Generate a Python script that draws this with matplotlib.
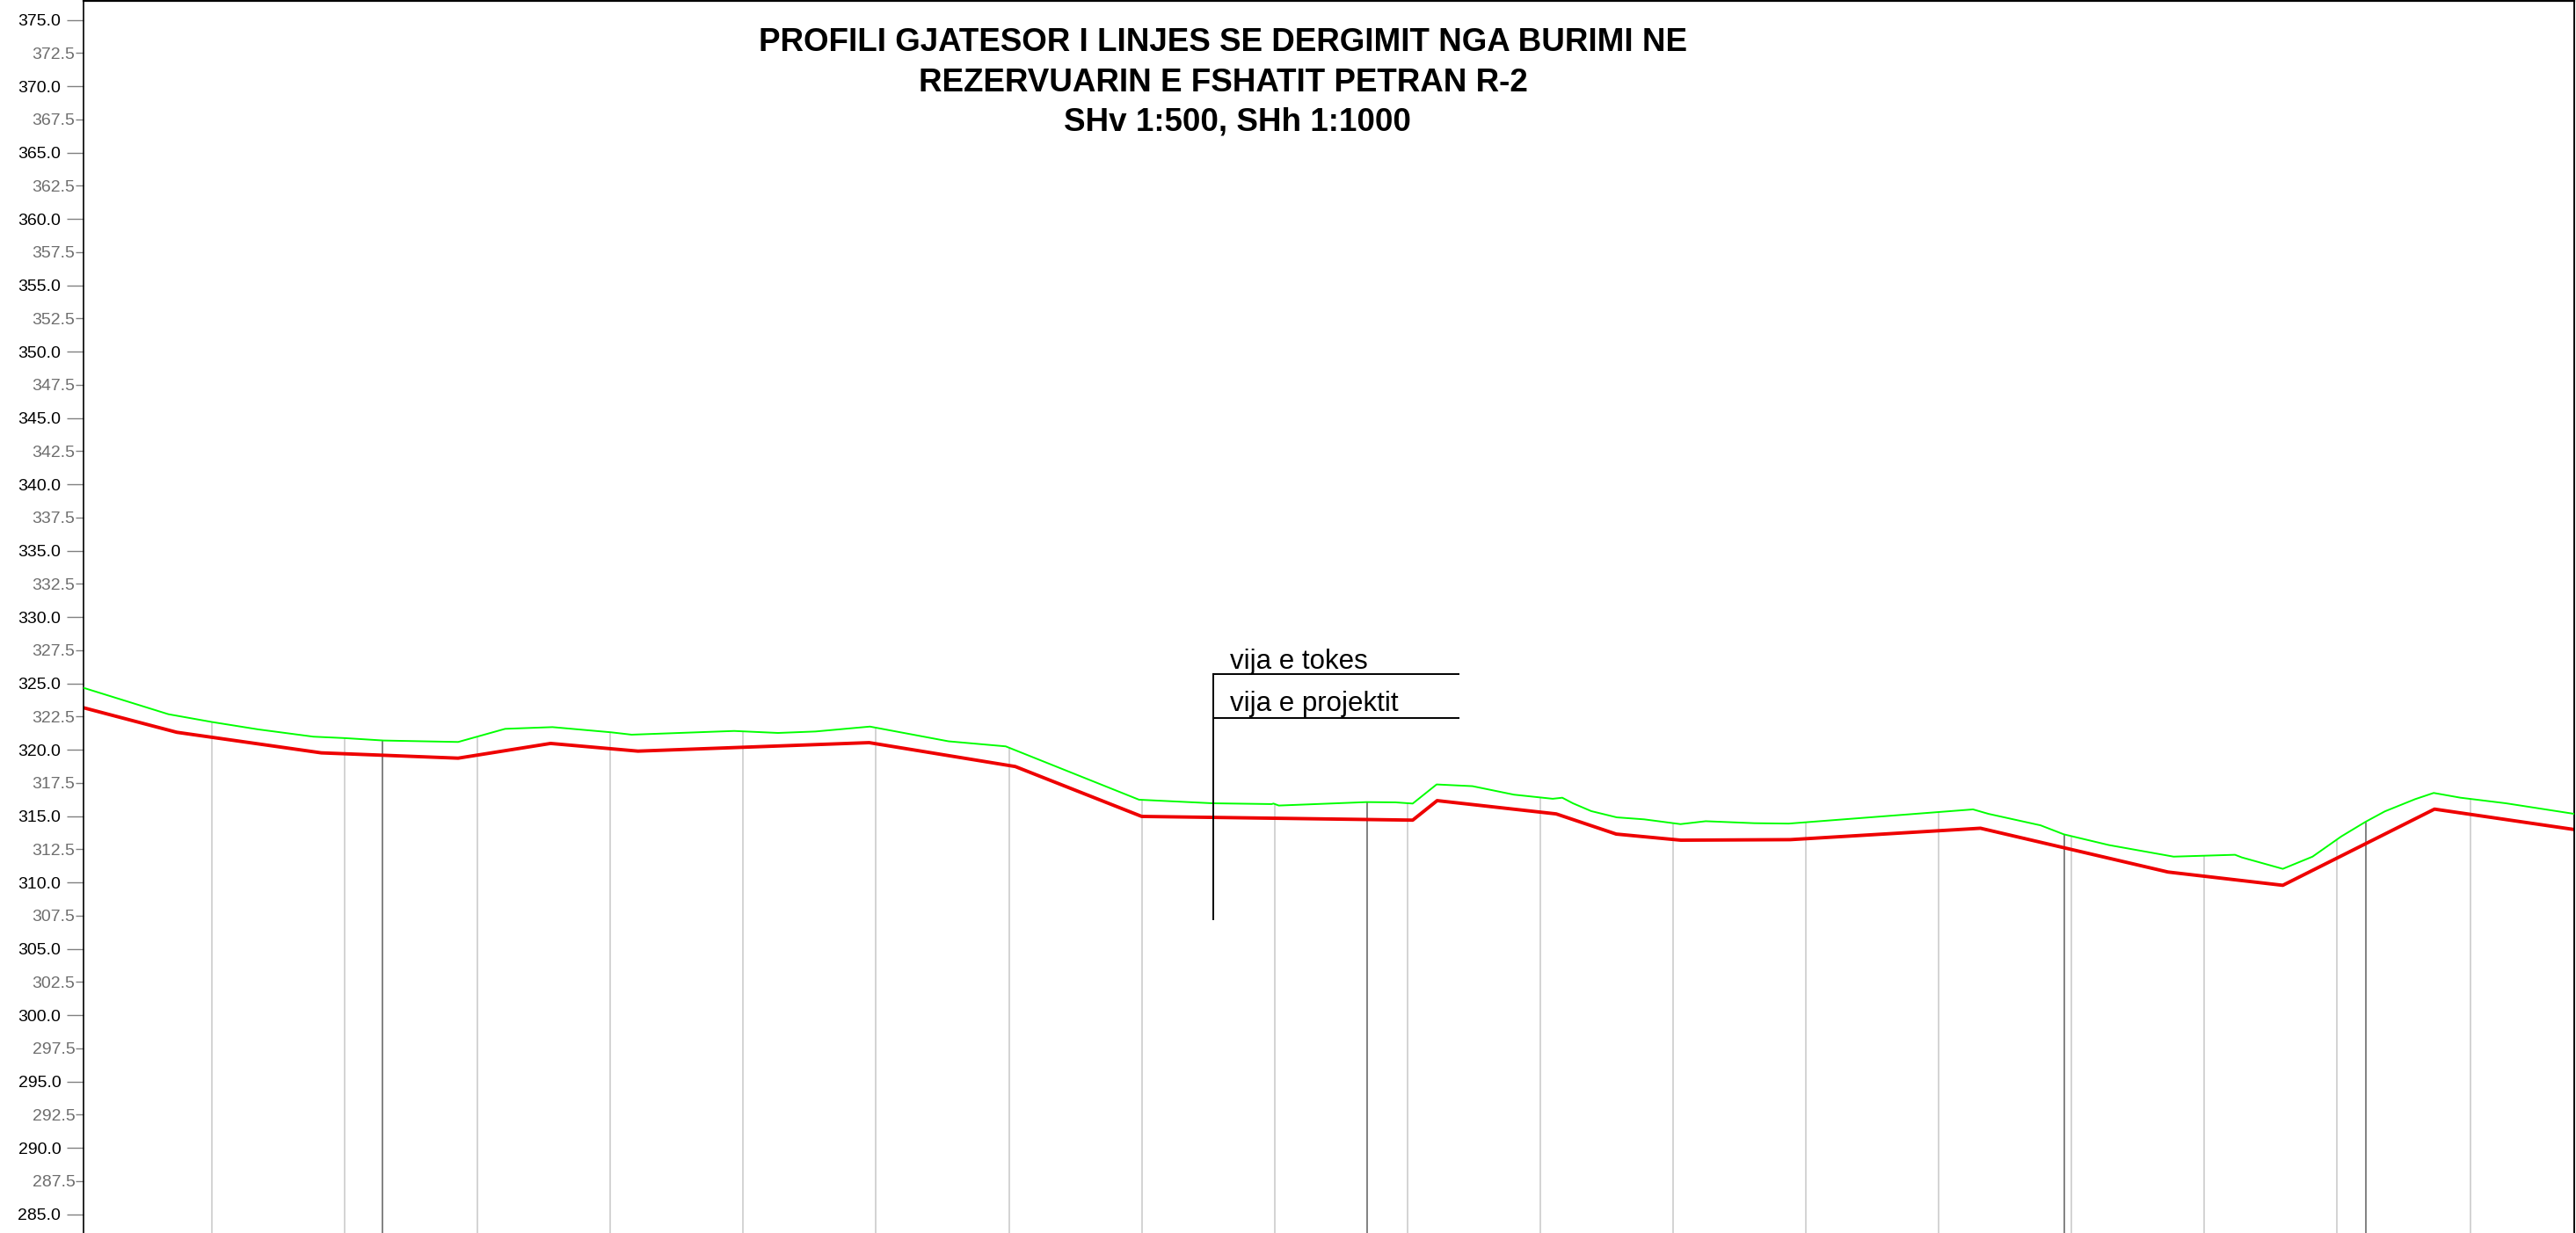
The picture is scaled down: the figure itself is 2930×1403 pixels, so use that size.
import matplotlib
matplotlib.use("Agg")
import numpy as np
import matplotlib.pyplot as plt
from matplotlib import font_manager

# ==========================================================
# DATA  (chainage in m, elevation in m a.s.l.)
# ==========================================================
# ground line - "vija e tokes"
terrain_x = [1.7, 33.7, 50.2, 67.4, 88.2, 100.2, 114.6, 142.7, 160.4, 178.2,
             200.2, 208.0, 246.6, 263.1, 277.2, 297.7, 327.3, 348.8, 399.0, 426.8,
             448.9, 449.6, 451.6, 484.7, 495.5, 502.0, 511.0, 524.5, 540.1, 554.7,
             558.3, 562.3, 569.2, 578.8, 589.1, 602.8, 612.3, 630.6, 643.5, 712.9,
             718.8, 738.3, 747.1, 764.1, 788.4, 811.5, 814.1, 829.5, 840.7, 851.5,
             860.7, 867.9, 879.3, 886.3, 896.4, 913.5, 939.3]
terrain_z = [324.67, 322.68, 322.09, 321.54, 320.99, 320.88, 320.70, 320.59, 321.58, 321.71,
             321.32, 321.14, 321.42, 321.27, 321.38, 321.75, 320.64, 320.26, 316.24, 315.97,
             315.91, 315.95, 315.80, 316.06, 316.04, 315.95, 317.39, 317.26, 316.62, 316.31,
             316.39, 315.97, 315.38, 314.91, 314.76, 314.40, 314.62, 314.47, 314.44, 315.51,
             315.17, 314.31, 313.63, 312.82, 311.95, 312.09, 311.89, 311.03, 311.95, 313.47,
             314.58, 315.36, 316.28, 316.75, 316.39, 315.97, 315.17]

# pipe line - "vija e projektit"
pipe_x = [1.7, 36.8, 91.2, 142.7, 177.5, 210.4, 297.4, 352.4, 400.0, 502.0,
          511.2, 556.0, 578.6, 602.9, 644.1, 715.7, 786.3, 829.5, 886.6, 939.3]
pipe_z = [323.17, 321.32, 319.77, 319.37, 320.48, 319.90, 320.54, 318.74, 314.98, 314.70,
          316.17, 315.17, 313.65, 313.19, 313.23, 314.09, 310.79, 309.79, 315.53, 313.99]

# station verticals (every 50 m) and special points (darker)
station_x = [50, 100, 150, 200, 250, 300, 350, 400, 450, 500,
             550, 600, 650, 700, 750, 800, 850, 900]
special_x = [114.2, 484.7, 747.2, 860.7]

y_major = [285.0, 290.0, 295.0, 300.0, 305.0, 310.0, 315.0, 320.0, 325.0, 330.0,
           335.0, 340.0, 345.0, 350.0, 355.0, 360.0, 365.0, 370.0, 375.0]
y_minor = [287.5, 292.5, 297.5, 302.5, 307.5, 312.5, 317.5, 322.5, 327.5, 332.5,
           337.5, 342.5, 347.5, 352.5, 357.5, 362.5, 367.5, 372.5]

title_lines = ["PROFILI GJATESOR I LINJES SE DERGIMIT NGA BURIMI NE",
               "REZERVUARIN E FSHATIT PETRAN R-2",
               "SHv 1:500, SHh 1:1000"]
legend_labels = ["vija e tokes", "vija e projektit"]

# ==========================================================
# LAYOUT
# ==========================================================
W, H = 2930, 1403
X_RANGE = (1.7, 939.2)
Y_RANGE = (283.59, 376.42)

plt.rcParams['font.family'] = ['Liberation Sans', 'DejaVu Sans']

available = {f.name for f in font_manager.fontManager.ttflist}
if 'Liberation Sans Narrow' in available:
    title_family, title_size = 'Liberation Sans Narrow', 31
else:
    title_family, title_size = 'Liberation Sans', 26.5

fig = plt.figure(figsize=(W / 100, H / 100), dpi=100, facecolor='white')
ax = fig.add_axes([95 / W, 0, (2928 - 95) / W, 1 - 1.2 / H])
ax.set_xlim(*X_RANGE)
ax.set_ylim(*Y_RANGE)

# station lines from the ground down
y_bottom = Y_RANGE[0]
ax.vlines(station_x, y_bottom, np.interp(station_x, terrain_x, terrain_z),
          color='#c8c8c8', lw=1.1, zorder=1)
ax.vlines(special_x, y_bottom, np.interp(special_x, terrain_x, terrain_z),
          color='#777777', lw=1.3, zorder=1)

# profile lines
ax.plot(terrain_x, terrain_z, color='#00ff00', lw=1.4, zorder=3)
ax.plot(pipe_x, pipe_z, color='#ee0000', lw=2.8, zorder=2)

# callout / legend
lx0, lx1 = 426.9, 519.2
ly_top, ly_mid, ly_end = 325.73, 322.42, 307.23
ax.plot([lx0, lx1], [ly_top, ly_top], color='black', lw=1.4, zorder=4)
ax.plot([lx0, lx1], [ly_mid, ly_mid], color='black', lw=1.4, zorder=4)
ax.plot([lx0, lx0], [ly_top, ly_end], color='black', lw=1.4, zorder=4)
ax.text(433.2, 326.13, legend_labels[0], fontsize=22.5, va='baseline', ha='left')
ax.text(433.2, 322.90, legend_labels[1], fontsize=22.5, va='baseline', ha='left')

# y axis ticks
ax.set_yticks(y_major)
ax.set_yticklabels([f"{v:.1f}" for v in y_major])
ax.set_yticks(y_minor, minor=True)
ax.set_yticklabels([f"{v:.1f}" for v in y_minor], minor=True)
ax.tick_params(axis='y', which='major', length=13.7, width=1, color='#808080',
               pad=4.8, labelsize=14, labelcolor='black')
ax.tick_params(axis='y', which='minor', length=6.5, width=1, color='#808080',
               pad=0.3, labelsize=14, labelcolor='#6e6e6e')
ax.set_xticks([])

ax.spines['bottom'].set_visible(False)
ax.spines['left'].set_linewidth(1.2)
ax.spines['top'].set_linewidth(1.6)
ax.spines['right'].set_linewidth(1.4)

# title block
fig.text(1391 / W, 1 - 58 / H, title_lines[0], ha='center', va='baseline',
         fontsize=title_size, fontweight='bold', family=title_family)
fig.text(1391 / W, 1 - 104 / H, title_lines[1], ha='center', va='baseline',
         fontsize=title_size, fontweight='bold', family=title_family)
fig.text(1407 / W, 1 - 149 / H, title_lines[2], ha='center', va='baseline',
         fontsize=title_size, fontweight='bold', family=title_family)

fig.savefig("out.png", dpi=100, facecolor='white')
